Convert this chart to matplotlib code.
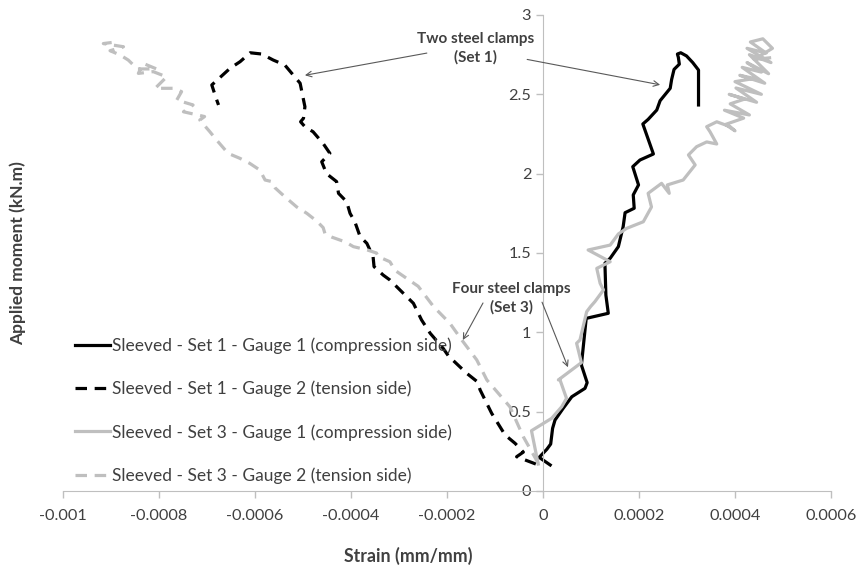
import numpy as np
import matplotlib
matplotlib.use('Agg')
import matplotlib.pyplot as plt

plt.rcParams['font.family'] = ['Lato', 'DejaVu Sans']

# strain values in 1e-5 mm/mm, moment in kN.m
s1g1_strain = [1.5, -0.8, 0.8, 1.6, 2.0, 2.5, 4.2, 6.0, 8.75, 9.2, 8.0, 9.0, 13.6, 13.1, 12.9,
               14.0, 15.7, 16.7, 17.1, 19.0, 18.8, 19.9, 18.7, 20.2, 23.0, 20.8, 21.9, 23.7,
               24.4, 26.5, 26.8, 27.3, 28.4, 28.2, 28.0, 28.7, 29.9, 31.2, 32.4, 32.4]
s1g1_moment = [0.164, 0.212, 0.263, 0.296, 0.395, 0.447, 0.521, 0.594, 0.647, 0.683, 0.794,
               1.088, 1.12, 1.235, 1.435, 1.467, 1.54, 1.666, 1.754, 1.782, 1.866, 1.929,
               2.044, 2.086, 2.124, 2.313, 2.342, 2.401, 2.46, 2.538, 2.594, 2.657, 2.69,
               2.733, 2.754, 2.762, 2.742, 2.70, 2.653, 2.433]

s1g2_strain = [-1.5, -5.5, -4.1, -5.8, -7.9, -10.7, -13.1, -13.7, -15.9, -19.7, -20.8, -23.5,
               -25.3, -27.0, -31.9, -33.3, -35.2, -35.4, -36.7, -38.1, -39.2, -40.2, -40.9,
               -42.6, -43.0, -45.1, -46.1, -44.4, -45.8, -47.9, -49.6, -50.5, -49.9, -49.6,
               -50.6, -53.8, -56.2, -58.6, -61.0, -63.1, -65.2, -69.0, -68.1, -67.6]
s1g2_moment = [0.17, 0.216, 0.245, 0.30, 0.353, 0.49, 0.637, 0.689, 0.742, 0.851, 0.899, 0.994,
               1.078, 1.183, 1.33, 1.361, 1.414, 1.477, 1.561, 1.603, 1.697, 1.75, 1.823,
               1.876, 1.95, 2.0, 2.075, 2.128, 2.19, 2.264, 2.296, 2.327, 2.349, 2.422,
               2.57, 2.685, 2.716, 2.754, 2.762, 2.706, 2.664, 2.559, 2.475, 2.433]

s3g1_strain = [-1.0, -2.4, 1.8, 3.9, 4.9, 3.5, 3.2, 8.0, 7.0, 7.7, 9.1, 9.9, 10.8, 12.6, 11.9,
               11.2, 14.0, 9.4, 14.0, 15.7, 17.4, 20.9, 22.6, 21.9, 24.7, 26.3, 25.9, 29.2,
               31.7, 30.3, 32.0, 34.1, 36.2, 34.8, 34.1, 36.2, 39.0,
               40.0, 38.0, 41.8, 37.8, 43.0, 39.0, 42.0, 38.8, 44.5, 40.2, 45.5, 40.0, 44.0,
               41.0, 46.2, 41.5, 45.5, 42.5, 47.0, 43.0, 47.5, 42.5, 46.5, 43.2, 45.8, 47.8,
               44.0, 47.2]
s3g1_moment = [0.17, 0.38, 0.458, 0.531, 0.584, 0.704, 0.70, 0.809, 0.931, 0.952, 1.13, 1.162,
               1.193, 1.267, 1.309, 1.403, 1.445, 1.519, 1.55, 1.62, 1.655, 1.697, 1.79,
               1.876, 1.939, 1.876, 1.929, 1.96, 2.055, 2.118, 2.17, 2.20, 2.187, 2.264,
               2.296, 2.327, 2.296,
               2.27, 2.31, 2.35, 2.40, 2.37, 2.44, 2.47, 2.50, 2.45, 2.54, 2.50, 2.58, 2.60,
               2.62, 2.57, 2.67, 2.64, 2.70, 2.63, 2.75, 2.70, 2.79, 2.76, 2.83, 2.85, 2.79,
               2.72, 2.73]

s3g2_strain = [-1.0, -4.1, -6.9, -11.7, -13.8, -16.9, -19.4, -22.8, -26.0, -30.8, -31.9, -34.3,
               -34.7, -36.7, -39.5, -41.2, -44.0, -45.4, -45.8, -47.1, -49.2, -51.3, -53.8,
               -55.8, -56.5, -57.9, -59.0, -61.1, -63.1, -65.6, -68.0, -69.4, -71.5, -70.5,
               -74.9, -72.9, -76.3, -75.3, -77.0, -80.8, -78.4, -81.2, -84.3, -83.3, -80.5,
               -84.5, -86.4, -88.1, -90.2, -87.4, -91.6, -89.0]
s3g2_moment = [0.175, 0.342, 0.531, 0.70, 0.826, 0.951, 1.057, 1.162, 1.29, 1.39, 1.445, 1.477,
               1.50, 1.52, 1.54, 1.57, 1.60, 1.62, 1.66, 1.70, 1.75, 1.79, 1.855, 1.91, 1.95,
               1.96, 2.023, 2.065, 2.096, 2.128, 2.212, 2.264, 2.338, 2.36, 2.39, 2.433,
               2.464, 2.517, 2.538, 2.538, 2.61, 2.643, 2.632, 2.695, 2.66, 2.66, 2.716,
               2.748, 2.775, 2.80, 2.82, 2.83]

labels = ['Sleeved - Set 1 - Gauge 1 (compression side)',
          'Sleeved - Set 1 - Gauge 2 (tension side)',
          'Sleeved - Set 3 - Gauge 1 (compression side)',
          'Sleeved - Set 3 - Gauge 2 (tension side)']

x_ticks = [-0.001, -0.0008, -0.0006, -0.0004, -0.0002, 0, 0.0002, 0.0004, 0.0006]
x_ticklabels = ['-0.001', '-0.0008', '-0.0006', '-0.0004', '-0.0002', '0', '0.0002', '0.0004', '0.0006']
y_ticks = [0, 0.5, 1, 1.5, 2, 2.5, 3]
y_ticklabels = ['0', '0.5', '1', '1.5', '2', '2.5', '3']

BLACK = '#000000'
GREY = '#BFBFBF'
AXIS = '#BFBFBF'
TXT = '#404040'
dash = (0, (3.6, 2.4))

fig = plt.figure(figsize=(8.62, 5.72), dpi=100)
ax = fig.add_axes([63 / 862, 1 - 491 / 572, 768 / 862, 476 / 572])

def e5(v):
    return np.array(v) * 1e-5

ax.plot(e5(s1g1_strain), s1g1_moment, color=BLACK, lw=2.3, label=labels[0],
        solid_joinstyle='round')
ax.plot(e5(s1g2_strain), s1g2_moment, color=BLACK, lw=2.3, ls=dash, label=labels[1])
ax.plot(e5(s3g1_strain), s3g1_moment, color=GREY, lw=2.3, label=labels[2],
        solid_joinstyle='round')
ax.plot(e5(s3g2_strain), s3g2_moment, color=GREY, lw=2.3, ls=dash, label=labels[3])

ax.set_xlim(-0.001, 0.0006)
ax.set_ylim(0, 3)
ax.set_xticks(x_ticks)
ax.set_xticklabels(x_ticklabels)
ax.set_yticks(y_ticks)
ax.set_yticklabels(y_ticklabels)

ax.spines['top'].set_visible(False)
ax.spines['right'].set_visible(False)
ax.spines['left'].set_position(('data', 0))
ax.spines['left'].set_color(AXIS)
ax.spines['bottom'].set_color(AXIS)
ax.tick_params(axis='both', colors=AXIS, labelcolor=TXT, labelsize=11.7, length=5, width=1)
ax.tick_params(axis='x', pad=8)

ax.set_xlabel('Strain (mm/mm)', fontsize=12.8, fontweight='bold', color=TXT)
ax.xaxis.set_label_coords(0.45, -0.118)
ax.set_ylabel('Applied moment (kN.m)', fontsize=12.5, fontweight='bold', color=TXT, va='center')
ax.yaxis.set_label_coords(-0.059, 0.5)

ax.legend(loc='upper left', bbox_to_anchor=(0.007, 0.338), frameon=False, fontsize=12.5,
          handlelength=2.0, handletextpad=0.12, labelspacing=1.55, borderaxespad=0,
          labelcolor=TXT)

arrow = dict(arrowstyle='->', color='#595959', lw=0.8, shrinkA=0, shrinkB=0)
ax.annotate('', xy=(-0.000496, 2.62), xytext=(-0.000242, 2.76), arrowprops=arrow)
ax.annotate('', xy=(0.000244, 2.56), xytext=(-0.000033, 2.72), arrowprops=arrow)
ax.text(-0.000140, 2.789, 'Two steel clamps\n(Set 1)', ha='center', va='center',
        fontsize=11, fontweight='bold', color=TXT, linespacing=1.4)
ax.annotate('', xy=(-0.000167, 0.952), xytext=(-0.000125, 1.185), arrowprops=arrow)
ax.annotate('', xy=(0.000052, 0.78), xytext=(-0.000002, 1.19), arrowprops=arrow)
ax.text(-0.000065, 1.216, 'Four steel clamps\n(Set 3)', ha='center', va='center',
        fontsize=11, fontweight='bold', color=TXT, linespacing=1.4)

fig.savefig('out.png', dpi=100)
